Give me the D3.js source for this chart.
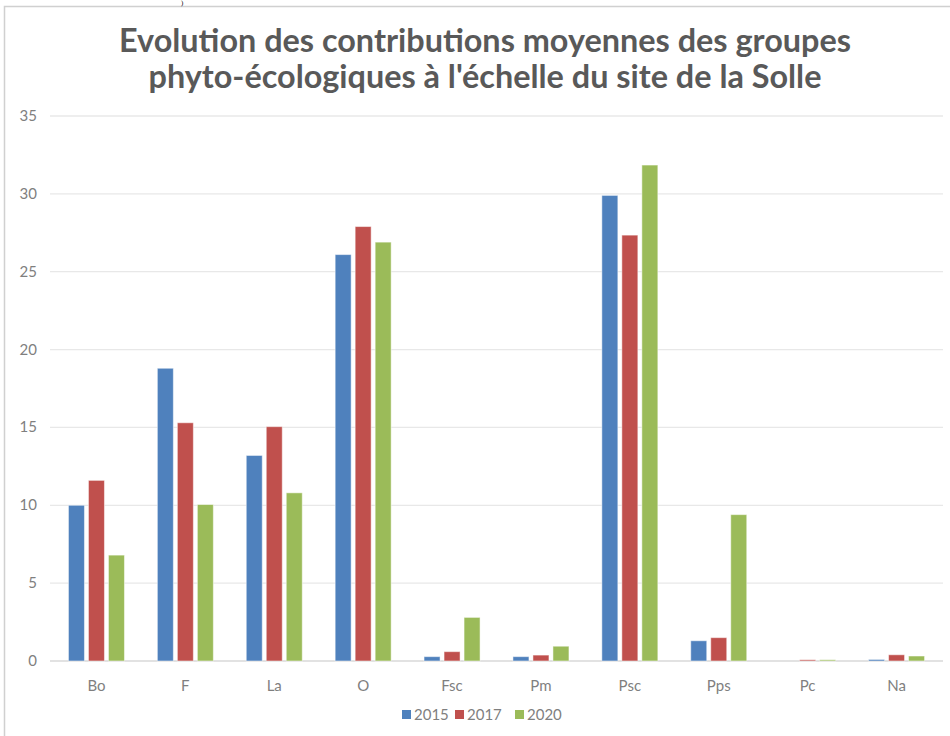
<!DOCTYPE html>
<html><head><meta charset="utf-8">
<script src="https://cdn.jsdelivr.net/npm/d3@7"></script>
<style>body{margin:0;background:#fff;} svg{display:block;}</style>
</head><body>
<script>
const categories = ["Bo","F","La","O","Fsc","Pm","Psc","Pps","Pc","Na"];
const seriesNames = ["2015","2017","2020"];
const values2015 = [10.0, 18.8, 13.2, 26.1, 0.28, 0.28, 29.9, 1.3, 0.0, 0.1];
const values2017 = [11.6, 15.3, 15.05, 27.9, 0.6, 0.38, 27.35, 1.5, 0.08, 0.4];
const values2020 = [6.8, 10.05, 10.8, 26.9, 2.8, 0.95, 31.85, 9.4, 0.08, 0.32];
const yTicks = [0,5,10,15,20,25,30,35];
const colors = ["#4f81bd","#c0504d","#9bbb59"];
const titleLines = ["Evolution des contributions moyennes des groupes","phyto-écologiques à l'échelle du site de la Solle"];

const W=950,H=736;
const svg=d3.select("body").append("svg").attr("width",W).attr("height",H);
const font="Lato, 'Open Sans', sans-serif";

// frame
svg.append("path").attr("d","M4.5,736 L4.5,6.5 L950,6.5").attr("fill","none").attr("stroke","#d0d0d0").attr("stroke-width",1.5);
svg.append("text").attr("x",181).attr("y",5).attr("font-family","'Liberation Serif',serif").attr("font-size",7).attr("fill","#000").text(")");

const x0=d3.scaleBand().domain(categories).range([52,941]).paddingInner(0.37).paddingOuter(0.185);
const x1=d3.scaleBand().domain(seriesNames).range([0,x0.bandwidth()]).paddingInner(0.2);
const y=d3.scaleLinear().domain([0,35]).range([661,116]);

svg.append("g").selectAll("line").data(yTicks).join("line")
  .attr("x1",50).attr("x2",943).attr("y1",d=>y(d)).attr("y2",d=>y(d))
  .attr("stroke",d=>d===0?"#d9d9d9":"#e8e8e8").attr("stroke-width",1.3);

svg.append("g").selectAll("text").data(yTicks).join("text")
  .attr("x",37).attr("y",d=>y(d)+5).attr("text-anchor","end")
  .attr("font-family",font).attr("font-size",15).attr("fill","#7f7f7f").text(d=>d);

const all=[values2015,values2017,values2020];
const g=svg.append("g");
categories.forEach((c,i)=>{
  seriesNames.forEach((s,j)=>{
    const v=all[j][i];
    g.append("rect").attr("x",x0(c)+x1(s)).attr("width",x1.bandwidth())
      .attr("y",y(v)).attr("height",Math.max(0,y(0)-y(v)))
      .attr("fill",colors[j]).attr("stroke","#fff").attr("stroke-opacity",0.5).attr("stroke-width",1);
  });
});

svg.append("g").selectAll("text").data(categories).join("text")
  .attr("x",d=>x0(d)+x0.bandwidth()/2).attr("y",691).attr("text-anchor","middle")
  .attr("font-family",font).attr("font-size",15).attr("fill","#7f7f7f").text(d=>d);

svg.append("g").selectAll("text").data(titleLines).join("text")
  .attr("x",485).attr("y",(d,i)=>52+i*36).attr("text-anchor","middle")
  .attr("font-family",font).attr("font-weight","bold").attr("font-size",32.4).attr("fill","#595959").text(d=>d);

const lg=svg.append("g");
const lx=[402,455,515];
seriesNames.forEach((s,j)=>{
  lg.append("rect").attr("x",lx[j]).attr("y",710).attr("width",9).attr("height",9).attr("fill",colors[j]);
  lg.append("text").attr("x",lx[j]+12).attr("y",720).attr("font-family",font).attr("font-size",15).attr("fill","#7f7f7f").text(s);
});
</script>
</body></html>
